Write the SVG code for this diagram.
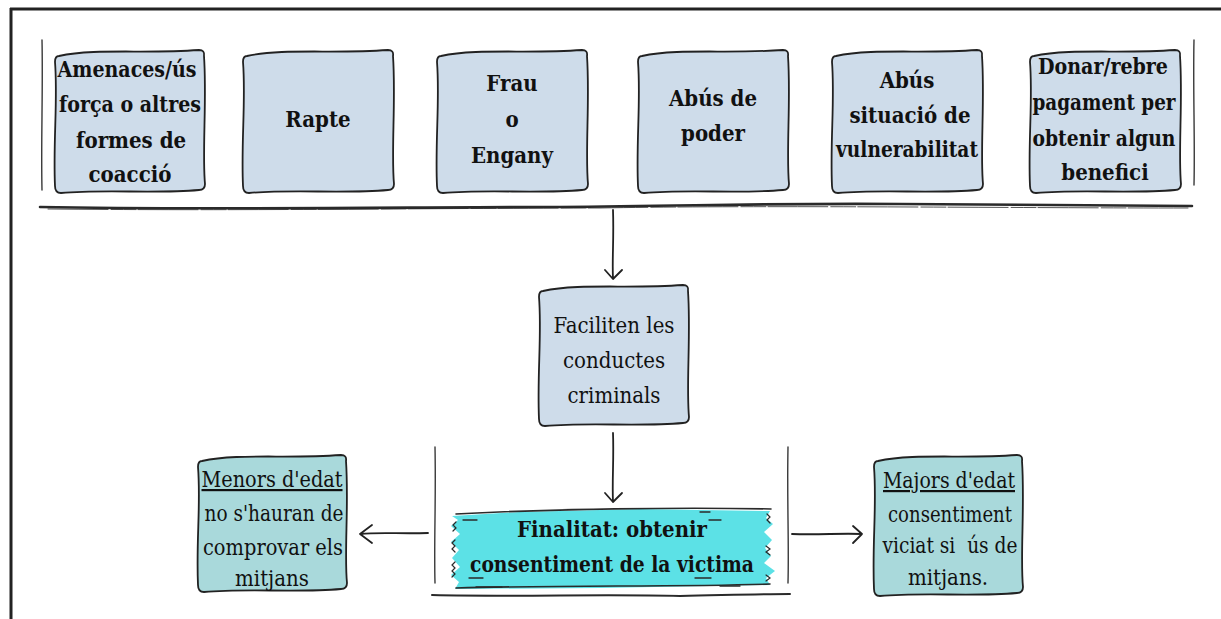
<svg xmlns="http://www.w3.org/2000/svg" width="1221" height="619" viewBox="0 0 1221 619">
<defs>
<style>
.box{stroke:#222;stroke-width:1.8;stroke-linejoin:round}
.blue{fill:#cedcea}
.teal{fill:#a9d9db}
.t{font-family:'DejaVu Serif Condensed','DejaVu Serif',serif;font-size:22px;fill:#111;text-anchor:middle}
.b{font-weight:bold}
.ln{fill:none;stroke:#222;stroke-width:1.8;stroke-linecap:round;stroke-linejoin:round}
.sk{fill:none;stroke:#2a2a2a;stroke-linecap:round}
</style>
</defs>
<rect width="1221" height="619" fill="#fff"/>
<g id="frame">
<path d="M10,9 H1221" stroke="#222" stroke-width="3"/>
<path d="M11,8 V619" stroke="#222" stroke-width="3"/>
</g>
<g id="sketch-lines">
<path class="sk" stroke-width="1.3" d="M42,40 C43,90 41,140 42,190"/>
<path class="sk" stroke-width="1.3" d="M1194,40 C1193,90 1195,140 1194,185"/>
<path class="sk" stroke-width="2.6" d="M40,207 C200,210 420,207 560,207 C700,206 760,203 900,204 C1000,205 1100,206 1192,206"/>
<path class="sk" stroke-width="0.8" stroke-dasharray="60 3 25 2" d="M48,209 C250,211 450,208 600,208 C760,205 1000,208 1190,208"/>
<path class="sk" stroke-width="1.3" d="M435,447 C436,500 434,540 435,583"/>
<path class="sk" stroke-width="1.3" d="M788,447 C787,500 789,540 788,583"/>
<path class="sk" stroke-width="2" d="M432,595 C520,597 600,594 680,596 C730,595 760,594 790,594"/>
</g>
<g id="n1"><path class="box blue" d="M59,56 C95,48 144,54 199,50 Q205,50 204,56 C207,100 202,152 205,184 Q205,190 199,190 C154,194 105,189 61,193 Q55,193 55,186 C53,142 58,100 55,62 Q55,56 59,56 Z"/>
<text class="t b" x="127" y="77" textLength="139" lengthAdjust="spacingAndGlyphs">Amenaces/ús</text><text class="t b" x="130" y="112" textLength="142" lengthAdjust="spacingAndGlyphs">força o altres</text><text class="t b" x="131" y="148">formes de</text><text class="t b" x="130" y="182">coacció</text></g>
<g id="n2"><path class="box blue" d="M247,56 C283,48 333,54 388,50 Q394,50 393,56 C396,100 391,152 394,184 Q394,190 388,190 C343,194 293,189 249,193 Q243,193 243,186 C241,142 246,100 243,62 Q243,56 247,56 Z"/>
<text class="t b" x="318" y="127">Rapte</text></g>
<g id="n3"><path class="box blue" d="M441,56 C477,48 527,54 582,50 Q588,50 587,56 C590,100 585,152 588,184 Q588,190 582,190 C537,194 487,189 443,193 Q437,193 437,186 C435,142 440,100 437,62 Q437,56 441,56 Z"/>
<text class="t b" x="512" y="91">Frau</text><text class="t b" x="512" y="127">o</text><text class="t b" x="512" y="163">Engany</text></g>
<g id="n4"><path class="box blue" d="M642,56 C678,48 728,54 783,50 Q789,50 788,56 C791,100 786,152 789,184 Q789,190 783,190 C738,194 688,189 644,193 Q638,193 638,186 C636,142 641,100 638,62 Q638,56 642,56 Z"/>
<text class="t b" x="713" y="106">Abús de</text><text class="t b" x="713" y="141">poder</text></g>
<g id="n5"><path class="box blue" d="M836,56 C872,48 922,54 977,50 Q983,50 982,56 C985,100 980,152 983,184 Q983,190 977,190 C932,194 882,189 838,193 Q832,193 832,186 C830,142 835,100 832,62 Q832,56 836,56 Z"/>
<text class="t b" x="907" y="88">Abús</text><text class="t b" x="910" y="123">situació de</text><text class="t b" x="907" y="157" textLength="142" lengthAdjust="spacingAndGlyphs">vulnerabilitat</text></g>
<g id="n6"><path class="box blue" d="M1034,56 C1070,48 1120,54 1175,50 Q1181,50 1180,56 C1183,100 1178,152 1181,184 Q1181,190 1175,190 C1130,194 1080,189 1036,193 Q1030,193 1030,186 C1028,142 1033,100 1030,62 Q1030,56 1034,56 Z"/>
<text class="t b" x="1103" y="74" textLength="130" lengthAdjust="spacingAndGlyphs">Donar/rebre</text><text class="t b" x="1104" y="110" textLength="143" lengthAdjust="spacingAndGlyphs">pagament per</text><text class="t b" x="1104" y="146" textLength="143" lengthAdjust="spacingAndGlyphs">obtenir algun</text><text class="t b" x="1105" y="180">benefici</text></g>
<g id="n7"><path class="box blue" d="M543,291 C579,283 628,289 683,285 Q689,285 688,291 C691,335 686,385 689,417 Q689,423 683,423 C638,427 589,422 545,426 Q539,426 539,419 C537,375 542,335 539,297 Q539,291 543,291 Z"/>
<text class="t" x="614" y="333" textLength="121" lengthAdjust="spacingAndGlyphs">Faciliten les</text><text class="t" x="614" y="368">conductes</text><text class="t" x="614" y="403">criminals</text></g>
<g id="n8">
<path fill="#5ce1e6" d="M452,516 L520,512 L640,509 L770,511 L766,518 L773,524 L764,532 L772,540 L765,548 L771,556 L764,563 L775,571 L766,578 L770,585 L600,588 L455,589 L459,582 L451,575 L460,567 L452,558 L459,550 L451,542 L460,534 L451,526 L458,520 Z"/>
<path class="sk" stroke-width="1.6" d="M456,514 C550,509 680,507 771,509"/>
<path class="sk" stroke-width="1.6" d="M456,588 C560,585 680,587 770,584"/>
<path class="sk" stroke-width="1.2" d="M456,522 l-3,3 3,3 -3,3 M455,540 l-3,3 3,3 -3,3 3,3 M455,562 l-3,3 3,3 -3,3 3,3 -3,3 M767,514 l3,3 -3,3 3,3 M766,546 l4,3 -4,3 4,3 M766,575 l4,3 -4,3"/>
<path class="sk" stroke-width="1.3" d="M463,520 h14 M700,512 h10 M709,520 h12 M469,578 h14 M476,587 h26 M695,578 h16 M720,586 h20"/>
<text class="t b" x="612" y="537" textLength="190" lengthAdjust="spacingAndGlyphs">Finalitat: obtenir</text><text class="t b" x="612" y="572" textLength="284" lengthAdjust="spacingAndGlyphs">consentiment de la victima</text></g>
<g id="n9"><path class="box teal" d="M202,461 C238,453 286,459 341,455 Q347,455 346,461 C349,505 344,553 347,583 Q347,589 341,589 C296,593 248,588 204,592 Q198,592 198,585 C196,541 201,505 198,467 Q198,461 202,461 Z"/>
<text class="t" x="272" y="487" text-decoration="underline" textLength="141" lengthAdjust="spacingAndGlyphs">Menors d'edat</text><text class="t" x="274" y="521" textLength="139" lengthAdjust="spacingAndGlyphs">no s'hauran de</text><text class="t" x="273" y="555" textLength="140" lengthAdjust="spacingAndGlyphs">comprovar els</text><text class="t" x="272" y="586">mitjans</text></g>
<g id="n10"><path class="box teal" d="M878,461 C914,453 962,459 1017,455 Q1023,455 1022,461 C1025,505 1020,557 1023,587 Q1023,593 1017,593 C972,597 924,592 880,596 Q874,596 874,589 C872,545 877,505 874,467 Q874,461 878,461 Z"/>
<text class="t" x="949" y="488" text-decoration="underline" textLength="132" lengthAdjust="spacingAndGlyphs">Majors d'edat</text><text class="t" x="950" y="522" textLength="124" lengthAdjust="spacingAndGlyphs">consentiment</text><text class="t" x="950" y="553" xml:space="preserve" textLength="135" lengthAdjust="spacingAndGlyphs">viciat si  ús de</text><text class="t" x="948" y="585">mitjans.</text></g>
<g id="connectors">
<path class="ln" d="M613,210 C614,240 612,260 613,278 M605,270 L613,279 L622,270"/>
<path class="ln" d="M613,433 C614,460 612,480 613,502 M605,493 L613,502 L622,493"/>
<path class="ln" d="M428,533 C400,534 380,532 360,534 M372,525 L360,534 L372,543"/>
<path class="ln" d="M792,534 C820,535 840,533 862,534 M853,526 L862,534 L853,543"/>
</g>
</svg>
